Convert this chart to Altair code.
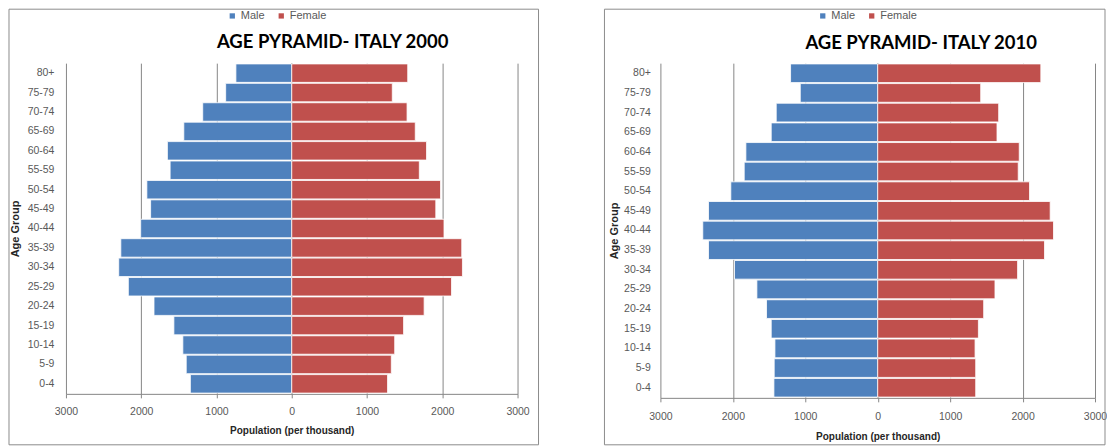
import altair as alt
import pandas as pd

ages = ["0-4", "5-9", "10-14", "15-19", "20-24", "25-29", "30-34", "35-39", "40-44",
        "45-49", "50-54", "55-59", "60-64", "65-69", "70-74", "75-79", "80+"]
male_2000 = [1347, 1402, 1447, 1566, 1830, 2171, 2299, 2271, 2007, 1875, 1925, 1616, 1652, 1434, 1183, 878, 742]
female_2000 = [1273, 1323, 1368, 1486, 1759, 2123, 2268, 2259, 2023, 1914, 1977, 1695, 1791, 1641, 1532, 1336, 1541]
male_2010 = [1433, 1429, 1419, 1470, 1535, 1668, 1977, 2336, 2415, 2336, 2028, 1843, 1820, 1470, 1401, 1069, 1203]
female_2010 = [1353, 1353, 1344, 1390, 1463, 1619, 1931, 2303, 2427, 2381, 2096, 1940, 1954, 1647, 1670, 1422, 2252]
sexes = ["Male", "Female"]
colors = ["#4F81BD", "#C0504D"]
x_ticks = [-3000, -2000, -1000, 0, 1000, 2000, 3000]
titles = ["AGE PYRAMID- ITALY 2000", "AGE PYRAMID- ITALY 2010"]

GRID = "#868686"
LABEL = "#595959"
FONT = "Liberation Sans"
TITLE_FONT = "Lato"


def make_df(male, female):
    rows = []
    for a, m, f in zip(ages, male, female):
        rows.append({"age": a, "sex": "Male", "value": -m})
        rows.append({"age": a, "sex": "Female", "value": f})
    return pd.DataFrame(rows)


def panel(male, female, title, g):
    df = make_df(male, female)
    one = pd.DataFrame({"k": [0]})
    w, h = g["w"], g["h"]

    xscale = alt.Scale(domain=[-3000, 3000], nice=False)

    frame = alt.Chart(one).mark_rect(fillOpacity=0, stroke="#8c8c8c", strokeWidth=1).encode(
        x=alt.value(g["fl"]), x2=alt.value(g["fr"]), y=alt.value(g["ft"]), y2=alt.value(g["fb"])
    )

    zero = alt.Chart(one).mark_rule(color=GRID, strokeWidth=1).encode(
        x=alt.datum(0, scale=xscale)
    )

    bars = alt.Chart(df).mark_bar(stroke="white", strokeWidth=0.8).encode(
        x=alt.X(
            "value:Q",
            scale=xscale,
            axis=alt.Axis(
                values=x_ticks,
                labelExpr="format(abs(datum.value), 'd')",
                labelFlush=False, labelOverlap=False,
                grid=True, gridColor=GRID, gridWidth=1,
                domainColor=GRID, tickColor=GRID, tickSize=4,
                labelFont=FONT, labelFontSize=10.5, labelColor=LABEL,
                labelBaseline="middle", labelPadding=g["xlp"],
                title="Population (per thousand)",
                titleFont=FONT, titleFontSize=10, titleFontWeight="bold", titleColor="#262626",
                titleBaseline="middle", titleY=g["xty"],
            ),
        ),
        y=alt.Y(
            "age:N",
            sort=list(reversed(ages)),
            scale=alt.Scale(paddingInner=0.05, paddingOuter=0.04),
            axis=alt.Axis(
                domain=False, ticks=False, tickSize=0, grid=False,
                labelFont=FONT, labelFontSize=10.5, labelColor=LABEL,
                labelPadding=g["ylp"],
                title="Age Group",
                titleFont=FONT, titleFontSize=11, titleFontWeight="bold", titleColor="#262626",
                titleAngle=-90, titleAlign="center", titleBaseline="middle",
                titleX=g["ytx"], titleY=h / 2,
            ),
        ),
        color=alt.Color(
            "sex:N",
            scale=alt.Scale(domain=sexes, range=colors),
            legend=alt.Legend(
                orient="none", legendX=g["lx"], legendY=g["ly"],
                direction="horizontal", title=None,
                symbolType="square", symbolSize=28, symbolStrokeWidth=0,
                labelFont=FONT, labelFontSize=11, labelColor=LABEL,
                labelOffset=3, columnPadding=11, padding=0,
            ),
        ),
    )

    ttl = alt.Chart(one).mark_text(
        font=TITLE_FONT, fontSize=18.5, fontWeight="bold", color="black",
        align="center", baseline="alphabetic",
    ).encode(x=alt.value(g["tx"]), y=alt.value(g["ty"]), text=alt.value(title))

    return alt.layer(frame, zero, bars, ttl).properties(width=w, height=h)


g_left = dict(w=452, h=331, fl=-57, fr=473, ft=-54, fb=382, xlp=14, xty=37, ylp=12, ytx=-50,
              lx=161, ly=-53, tx=267, ty=-15)
g_right = dict(w=435, h=335, fl=-56, fr=445, ft=-54, fb=382, xlp=15, xty=39, ylp=10, ytx=-46,
               lx=157, ly=-53, tx=261, ty=-14)

left = panel(male_2000, female_2000, titles[0], g_left)
right = panel(male_2010, female_2010, titles[1], g_right)

chart = alt.hconcat(left, right, spacing=64).resolve_scale(
    color="independent", x="independent", y="independent"
).resolve_legend(color="independent").properties(
    padding=0
).configure_view(strokeWidth=0)

chart.save("out.html", embed_options={"renderer": "svg", "actions": False})
